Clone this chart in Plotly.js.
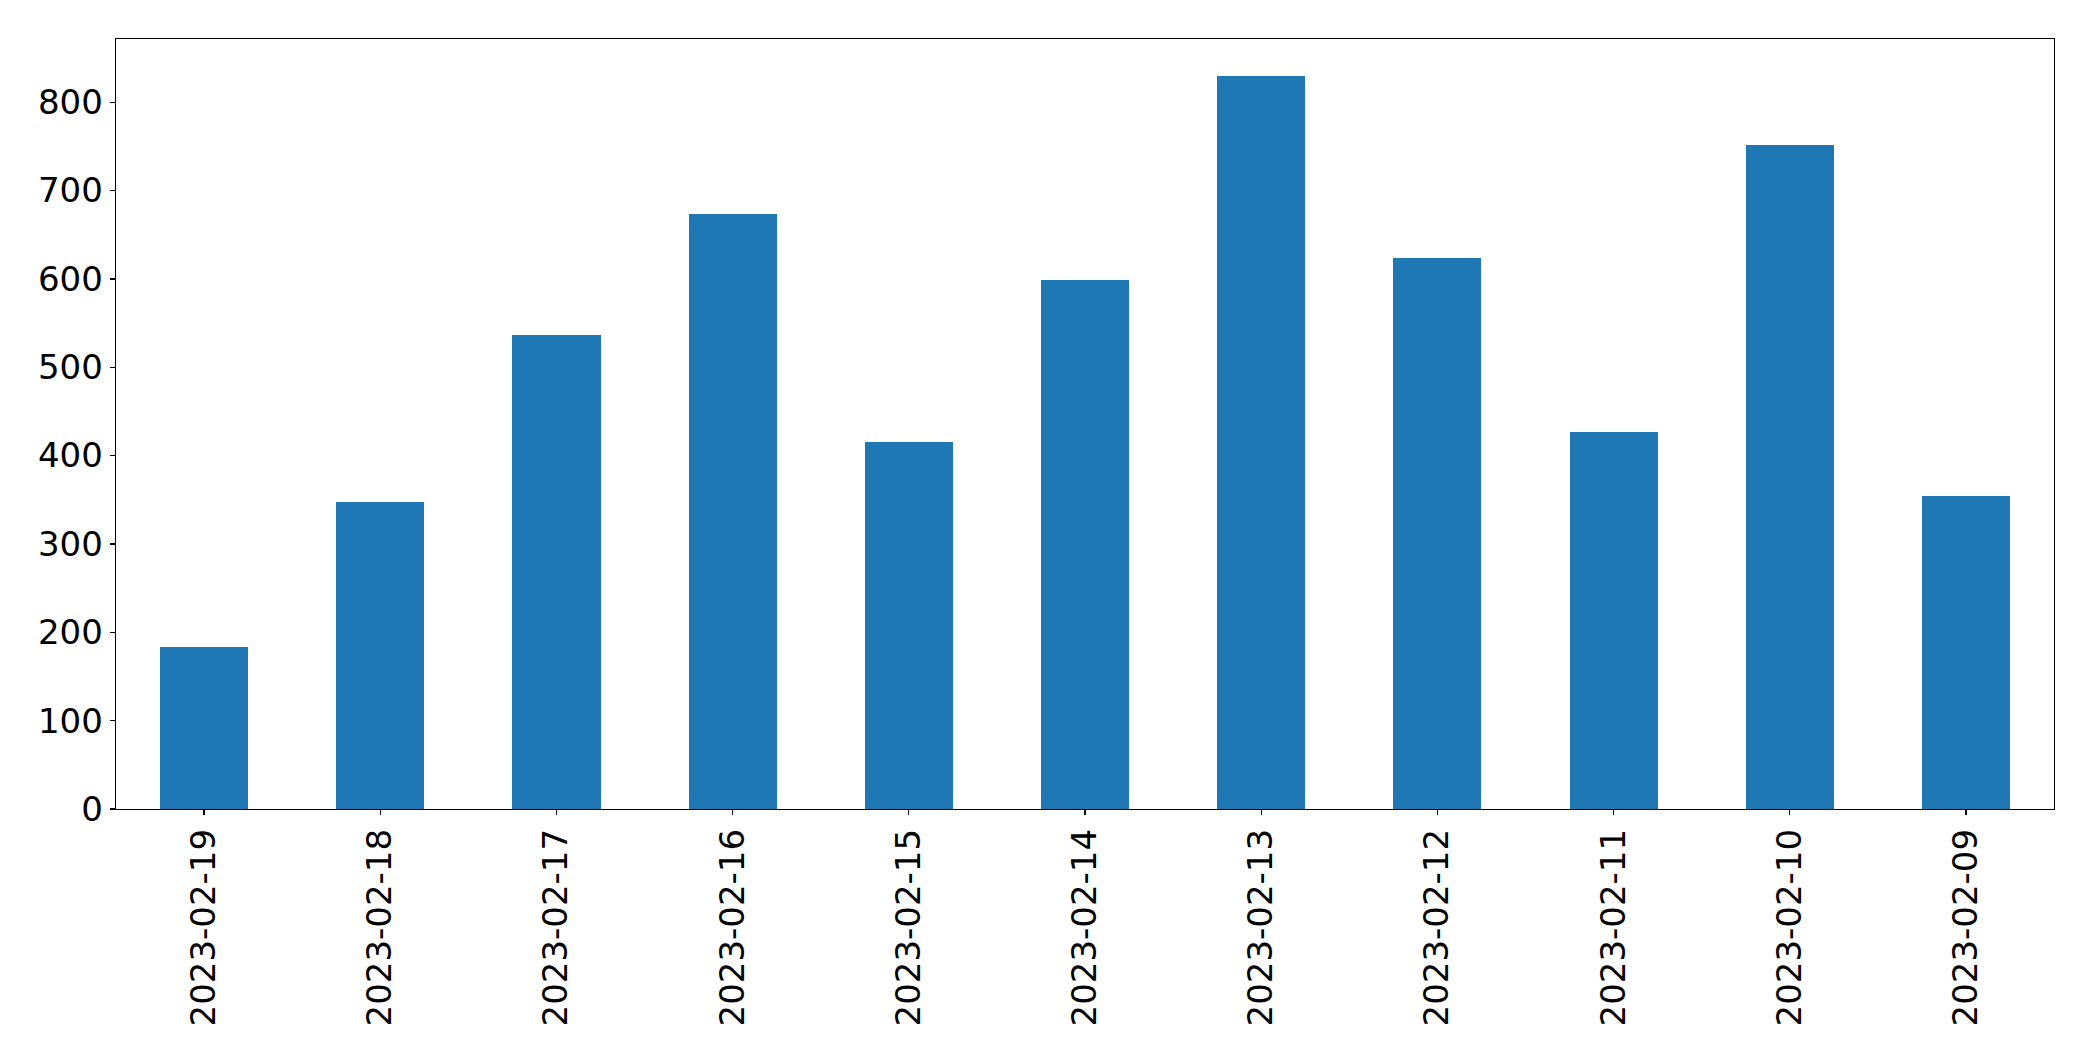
<!DOCTYPE html>
<html>
<head>
<meta charset="utf-8">
<script src="https://cdn.plot.ly/plotly-3.0.1.min.js"></script>
<style>html,body{margin:0;padding:0;background:#fff;}#chart{width:2093px;height:1061px;}</style>
</head>
<body>
<div id="chart"></div>
<script>
const dates = ["2023-02-19","2023-02-18","2023-02-17","2023-02-16","2023-02-15","2023-02-14","2023-02-13","2023-02-12","2023-02-11","2023-02-10","2023-02-09"];
const counts = [183, 348, 537, 673, 415, 599, 830, 624, 427, 752, 354];
const yTicks = [0, 100, 200, 300, 400, 500, 600, 700, 800];

const maxVal = Math.max(...counts);
const trace = {
  type: 'bar',
  x: dates,
  y: counts,
  width: 0.5,
  marker: {color: '#1f77b4', line: {width: 0}},
  hoverinfo: 'x+y'
};
const layout = {
  width: 2093, height: 1061,
  margin: {l: 116, r: 39, t: 39, b: 252},
  paper_bgcolor: '#fff', plot_bgcolor: '#fff',
  font: {family: 'DejaVu Sans', size: 34, color: '#000'},
  showlegend: false,
  bargap: 0,
  xaxis: {
    type: 'category',
    range: [-0.5, dates.length - 0.5],
    tickangle: -90,
    showline: true, linecolor: '#000', linewidth: 1.3, mirror: true,
    ticks: 'outside', ticklen: 5, tickwidth: 1.3, tickcolor: '#000',
    showgrid: false, zeroline: false,
    ticklabelstandoff: 0,
    tickfont: {family: 'DejaVu Sans', size: 34, color: '#000'}
  },
  yaxis: {
    range: [0, maxVal * 1.05],
    tickvals: yTicks,
    ticktext: yTicks.map(String),
    showline: true, linecolor: '#000', linewidth: 1.3, mirror: true,
    ticks: 'outside', ticklen: 5, tickwidth: 1.3, tickcolor: '#000',
    showgrid: false, zeroline: false,
    ticklabelstandoff: 0,
    tickfont: {family: 'DejaVu Sans', size: 34, color: '#000'}
  }
};
Plotly.newPlot('chart', [trace], layout, {displayModeBar: false, staticPlot: true});
</script>
</body>
</html>
